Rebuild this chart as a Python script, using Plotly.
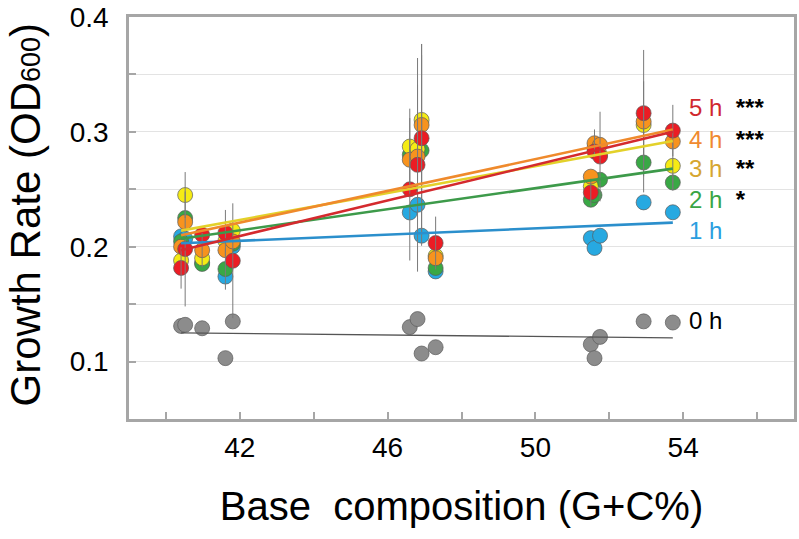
import plotly.graph_objects as go

# G+C content (%) of the strains
gc = [40.41, 40.52, 40.98, 41.61, 41.81, 46.60, 46.81, 46.92, 47.30,
      51.50, 51.60, 51.75, 52.93, 53.72]

# growth rate (OD600) per incubation time
rate_0h = [0.131, 0.132, 0.129, 0.103, 0.135, 0.130, 0.137, 0.107, 0.1125,
           0.115, 0.103, 0.1215, 0.135, 0.134]
rate_1h = [0.209, 0.207, 0.186, 0.174, 0.200, 0.2298, 0.2365, 0.2096, 0.1785,
           0.2075, 0.1989, 0.2096, 0.2386, 0.230]
rate_2h = [0.2046, 0.225, 0.185, 0.1806, 0.2026, 0.280, 0.282, 0.2838, 0.1815,
           0.2409, 0.245, 0.2583, 0.2733, 0.2559]
rate_3h = [0.188, 0.245, 0.190, 0.205, 0.214, 0.2872, 0.285, 0.3104, 0.192,
           0.2525, 0.2858, 0.280, 0.306, 0.2704]
rate_4h = [0.200, 0.2215, 0.197, 0.197, 0.2046, 0.2757, 0.2785, 0.306, 0.190,
           0.261, 0.2901, 0.2887, 0.309, 0.2916]
rate_5h = [0.1815, 0.198, 0.2104, 0.212, 0.1878, 0.250, 0.2713, 0.2945, 0.2032,
           0.2472, 0.2829, 0.2785, 0.3163, 0.3011]

# error (+/-)
err_0h = [0] * 14
err_1h = [0] * 14
err_2h = [0, 0, 0, 0.018, 0, 0, 0, 0.083, 0, 0, 0, 0, 0.026, 0.007]
err_3h = [0, 0.02, 0, 0, 0, 0.033, 0.056, 0, 0, 0, 0, 0, 0, 0.02]
err_4h = [0, 0, 0.015, 0, 0, 0, 0, 0.0705, 0, 0, 0.012, 0, 0.035, 0]
err_5h = [0.018, 0.05, 0, 0.02, 0.05, 0.062, 0.093, 0.082, 0.023, 0.012, 0,
          0.039, 0.055, 0.0224]

# regression line values at min and max G+C
trend_start = {"0 h": 0.125, "1 h": 0.203, "2 h": 0.207, "3 h": 0.214, "4 h": 0.210, "5 h": 0.197}
trend_end = {"0 h": 0.1206, "1 h": 0.221, "2 h": 0.268, "3 h": 0.292, "4 h": 0.302, "5 h": 0.300}

series_names = ["0 h", "1 h", "2 h", "3 h", "4 h", "5 h"]
significance = ["", "", "*", "**", "***", "***"]
label_y = [0.1357, 0.2139, 0.2409, 0.2678, 0.2930, 0.3209]

x_ticks = [40, 42, 44, 46, 48, 50, 52, 54, 56]
x_ticklabels = ["", "42", "", "46", "", "50", "", "54", ""]
y_ticks = [0.05, 0.10, 0.15, 0.20, 0.25, 0.30, 0.35, 0.40]
y_ticklabels = ["", "0.1", "", "0.2", "", "0.3", "", "0.4"]

rates = [rate_0h, rate_1h, rate_2h, rate_3h, rate_4h, rate_5h]
errs = [err_0h, err_1h, err_2h, err_3h, err_4h, err_5h]
marker_colors = ["#8c8c8c", "#27a9e1", "#39a845", "#f5eb14", "#f7931e", "#ec1c24"]
line_colors = ["#555555", "#2b8fcc", "#3d9a4a", "#e3d12a", "#ef8a2c", "#d42a2e"]
label_colors = ["#000000", "#2b9ee0", "#3aa545", "#d6a630", "#f08a30", "#d0282e"]

FONT = "Liberation Sans, Arial, sans-serif"

fig = go.Figure()

# markers
for name, r, mc in zip(series_names, rates, marker_colors):
    fig.add_trace(go.Scatter(
        x=gc, y=r, mode="markers", name=name, showlegend=False,
        marker=dict(size=15, color=mc, line=dict(color="#5a5a5a", width=0.7)),
    ))

# error bars (drawn over markers)
for name, r, e in zip(series_names, rates, errs):
    fig.add_trace(go.Scatter(
        x=gc, y=r, mode="markers", showlegend=False, hoverinfo="skip",
        marker=dict(size=1, color="rgba(0,0,0,0)"),
        error_y=dict(type="data", array=e, visible=True, color="#7a7a7a",
                     thickness=1, width=0),
    ))

# regression lines
x_lo, x_hi = min(gc), max(gc)
for name, lc in zip(series_names, line_colors):
    fig.add_trace(go.Scatter(
        x=[x_lo, x_hi], y=[trend_start[name], trend_end[name]], mode="lines",
        showlegend=False, hoverinfo="skip",
        line=dict(color=lc, width=1.3 if name == "0 h" else 2.6),
    ))

# series labels
for name, sig, ly, c in zip(series_names, significance, label_y, label_colors):
    txt = f'<span style="color:{c}">{name}</span>'
    if sig:
        txt += f'  <b>{sig}</b>'
    fig.add_annotation(x=x_hi + 0.39, y=ly, xref="x", yref="y", text=txt,
                       showarrow=False, xanchor="left", yanchor="middle",
                       font=dict(family=FONT, size=24, color="#000000"))

# y title
fig.add_annotation(
    xref="paper", yref="paper", x=-0.156, y=0.507,
    text='Growth Rate (OD<span style="font-size:27px">600</span>)',
    textangle=-90, showarrow=False, xanchor="center", yanchor="middle",
    font=dict(family=FONT, size=42, color="#000000"))

axis_common = dict(showline=True, linecolor="#a6a6a6", linewidth=2.5, mirror=True,
                   ticks="inside", tickcolor="#a6a6a6", tickwidth=2, ticklen=7,
                   zeroline=False, ticklabeloverflow="allow")

fig.update_xaxes(range=[39, 57], tickmode="array", tickvals=x_ticks,
                 ticktext=x_ticklabels, showgrid=False,
                 tickfont=dict(family=FONT, size=28, color="#000000"),
                 ticklabelstandoff=2,
                 title=dict(text="Base  composition (G+C%)", standoff=30,
                            font=dict(family=FONT, size=40, color="#000000")),
                 **axis_common)
fig.update_yaxes(range=[0.05, 0.4], tickmode="array", tickvals=y_ticks,
                 ticktext=y_ticklabels, showgrid=True, gridcolor="#e3e3e3",
                 gridwidth=1, ticklabelstandoff=12,
                 tickfont=dict(family=FONT, size=28, color="#000000"),
                 **axis_common)

fig.update_layout(
    width=799, height=539,
    margin=dict(l=129, r=5, t=17, b=120, autoexpand=False),
    plot_bgcolor="white", paper_bgcolor="white",
    showlegend=False,
)

# remove the default page margin so the figure fills the window exactly
fig.write_html("out.html", config={"displayModeBar": False},
               post_script="document.body.style.margin='0';")
